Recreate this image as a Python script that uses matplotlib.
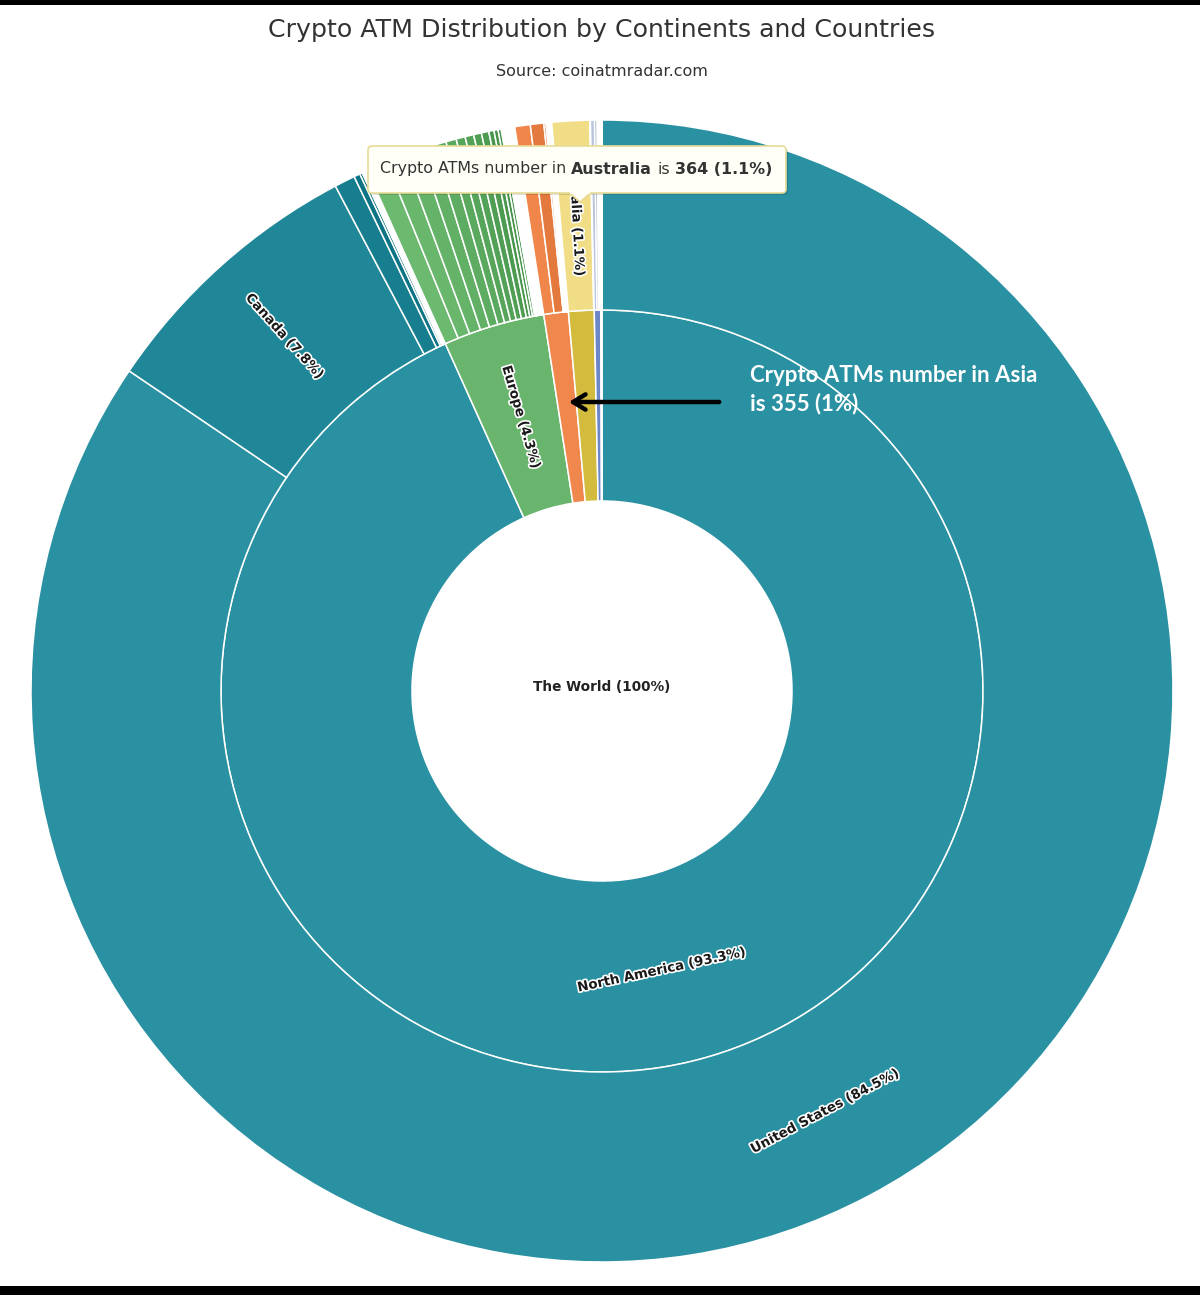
import numpy as np
import matplotlib.pyplot as plt
from matplotlib import patheffects as pe
from matplotlib.patches import FancyBboxPatch, Polygon, Rectangle
import matplotlib.colors as mcolors

# inner ring: continents, clockwise from 12 o'clock
continents = ['North America', 'Europe', 'Asia', 'Oceania', 'South America', 'Africa']

# outer ring: countries per continent (number of crypto ATMs)
na_names = ['United States', 'Canada', 'El Salvador', 'Mexico', 'Puerto Rico', 'Panama',
            'Dominican Republic', 'Guatemala', 'Jamaica', 'Honduras', 'Costa Rica', 'Bahamas']
na_atms = [28900, 2668, 200, 60, 25, 15, 12, 8, 6, 5, 4, 3]

eu_names = ['Spain', 'Poland', 'Switzerland', 'Romania', 'Austria', 'Czech Republic', 'Italy',
            'Slovakia', 'Germany', 'Netherlands', 'Greece', 'Ukraine', 'Slovenia', 'Portugal',
            'Hungary', 'Bulgaria', 'Georgia', 'Lithuania', 'Belgium', 'Estonia', 'France',
            'Croatia', 'Latvia', 'Cyprus', 'Bosnia', 'Serbia', 'Denmark', 'Finland', 'Ireland',
            'Luxembourg', 'Malta', 'Norway', 'Sweden']
eu_atms = [200, 175, 165, 135, 125, 100, 88, 84, 76, 72, 50, 40, 30, 15, 14, 13, 12, 11, 10,
           9, 8, 7, 6, 5, 4, 4, 3, 3, 2, 2, 1, 1, 1]

as_names = ['Hong Kong', 'Thailand', 'Singapore', 'Japan', 'Israel', 'Vietnam', 'Taiwan',
            'Philippines', 'Armenia']
as_atms = [150, 130, 20, 15, 12, 10, 8, 5, 5]

oc_names = ['Australia', 'New Zealand']
oc_atms = [364, 6]

sa_names = ['Argentina', 'Colombia', 'Brazil', 'Chile', 'Ecuador', 'Peru']
sa_atms = [40, 25, 15, 8, 4, 3]

af_names = ['South Africa', 'Nigeria', 'Kenya']
af_atms = [10, 4, 2]

groups_names = [na_names, eu_names, as_names, oc_names, sa_names, af_names]
groups_atms = [na_atms, eu_atms, as_atms, oc_atms, sa_atms, af_atms]

# colours
inner_colors = ['#2a91a2', '#6ab56e', '#f0874d', '#d3bb3d', '#6b87c8', '#a9a9a9']
outer_base = ['#2a91a2', '#6cba70', '#f0864a', '#f1dd85', '#b9c5de', '#d5d5d5']


def darker(color, amount):
    r, g, b = mcolors.to_rgb(color)
    return (max(r - amount, 0), max(g - amount, 0), max(b - amount, 0))


cont_totals = [sum(a) for a in groups_atms]
total = sum(cont_totals)

outer_vals = []
outer_cols = []
outer_labels = []
for base, names, atms in zip(outer_base, groups_names, groups_atms):
    n = len(atms)
    for i, (nm, v) in enumerate(zip(names, atms)):
        outer_vals.append(v)
        outer_cols.append(darker(base, 0.45 * i / n))
        outer_labels.append(nm)


def pct_txt(v):
    p = round(100 * v / total, 1)
    return ('%d' % p) if p == int(p) else ('%.1f' % p)


W, H = 1200, 1295
cx, cy = 602, H - 691
r_hole, r_mid, r_out = 190, 381, 571

fig = plt.figure(figsize=(W / 100, H / 100), dpi=100)
ax = fig.add_axes([0, 0, 1, 1])

wp = dict(edgecolor='white', linewidth=1.1)
ax.pie(cont_totals, radius=r_mid, center=(cx, cy), startangle=90, counterclock=False,
       colors=inner_colors, wedgeprops=dict(width=r_mid - r_hole, **wp))
ax.pie(outer_vals, radius=r_out, center=(cx, cy), startangle=90, counterclock=False,
       colors=outer_cols, wedgeprops=dict(width=r_out - r_mid, **wp))

ax.set_xlim(0, W)
ax.set_ylim(0, H)
ax.axis('off')

outline = [pe.withStroke(linewidth=2.4, foreground='white')]


def label(start, value, r, text, mode):
    mid = (start + value / 2) / total * 360
    x = cx + r * np.sin(np.radians(mid))
    y = cy + r * np.cos(np.radians(mid))
    theta = 90 - mid
    rot = theta + 90 if mode == 'parallel' else theta - 180
    rot = (rot + 180) % 360 - 180
    ax.text(x, y, text, rotation=rot, rotation_mode='anchor', ha='center', va='center',
            fontsize=9.6, fontweight='bold', color='#1a1a1a', path_effects=outline, zorder=5)


# continent labels
starts = np.cumsum([0] + cont_totals[:-1])
label(starts[0], cont_totals[0], (r_hole + r_mid) / 2,
      '%s (%s%%)' % (continents[0], pct_txt(cont_totals[0])), 'parallel')
label(starts[1], cont_totals[1], (r_hole + r_mid) / 2,
      '%s (%s%%)' % (continents[1], pct_txt(cont_totals[1])), 'perpendicular')

# country labels
ostarts = np.cumsum([0] + outer_vals[:-1])
r_lab = (r_mid + r_out) / 2
label(ostarts[0], outer_vals[0], r_lab, '%s (%s%%)' % (outer_labels[0], pct_txt(outer_vals[0])), 'parallel')
label(ostarts[1], outer_vals[1], r_lab, '%s (%s%%)' % (outer_labels[1], pct_txt(outer_vals[1])), 'perpendicular')
au = outer_labels.index('Australia')
label(ostarts[au], outer_vals[au], r_lab, '%s (%s%%)' % (outer_labels[au], pct_txt(outer_vals[au])), 'perpendicular')

ax.text(cx, cy + 4, 'The World (%s%%)' % pct_txt(total), ha='center', va='center',
        fontsize=9.8, fontweight='bold', color='#222222')

# title
ax.text(W / 2 + 2, H - 30, 'Crypto ATM Distribution by Continents and Countries', ha='center',
        va='center', fontsize=18.2, color='#333333')
ax.text(W / 2 + 2, H - 72, 'Source: coinatmradar.com', ha='center', va='center',
        fontsize=11.5, color='#333333')

# tooltip
tx0, ty0, tw, th = 368, H - 193, 418, 47
ax.add_patch(FancyBboxPatch((tx0 + 2, ty0 - 2), tw, th, boxstyle='round,pad=0,rounding_size=4',
                            facecolor='black', edgecolor='none', alpha=0.12, zorder=8))
ax.add_patch(FancyBboxPatch((tx0, ty0), tw, th, boxstyle='round,pad=0,rounding_size=4',
                            facecolor='#fffff7', edgecolor='#e6dc98', linewidth=1.2, zorder=9))
ax.add_patch(Polygon([(569, ty0 + 0.5), (591, ty0 + 0.5), (580, ty0 - 9)], closed=True,
                     facecolor='#fffff7', edgecolor='#e6dc98', linewidth=1.2, zorder=9))
ax.add_patch(Rectangle((570, ty0 - 0.5), 20, 2.5, facecolor='#fffff7', edgecolor='none', zorder=10))

fig.canvas.draw()
renderer = fig.canvas.get_renderer()


def text_width(s, weight):
    t = ax.text(0, 0, s, fontsize=11.4, fontweight=weight)
    w = t.get_window_extent(renderer).width
    t.remove()
    return w


space = text_width('x x', 'normal') - text_width('xx', 'normal')
pieces = [('Crypto ATMs number in', 'normal'), (outer_labels[au], 'bold'), ('is', 'normal'),
          ('%d (%s%%)' % (outer_vals[au], pct_txt(outer_vals[au])), 'bold')]
x = 380
for s, wgt in pieces:
    t = ax.text(x, H - 169, s, fontsize=11.4, fontweight=wgt, color='#333333',
                ha='left', va='center', zorder=11)
    x = t.get_window_extent(renderer).x1 + space

# annotation with arrow
asia_total = cont_totals[continents.index('Asia')]
ax.text(750, H - 375, 'Crypto ATMs number in Asia', fontsize=16, fontweight='bold',
        color='white', ha='left', va='center', family=['Lato', 'DejaVu Sans'], zorder=6)
ax.text(750, H - 404, 'is %d (%s%%)' % (asia_total, pct_txt(asia_total)), fontsize=16,
        fontweight='bold', color='white', ha='left', va='center',
        family=['Lato', 'DejaVu Sans'], zorder=6)
ax.annotate('', xy=(566, H - 402), xytext=(722, H - 402),
            arrowprops=dict(arrowstyle='->,head_length=0.9,head_width=0.55', lw=3.2,
                            color='black'), zorder=7)

# black frame strips of the screenshot
ax.add_patch(Rectangle((0, H - 5), W, 5, facecolor='black', edgecolor='none', zorder=12))
ax.add_patch(Rectangle((0, 0), W, 9, facecolor='black', edgecolor='none', zorder=12))

fig.savefig('out.png', dpi=100)
